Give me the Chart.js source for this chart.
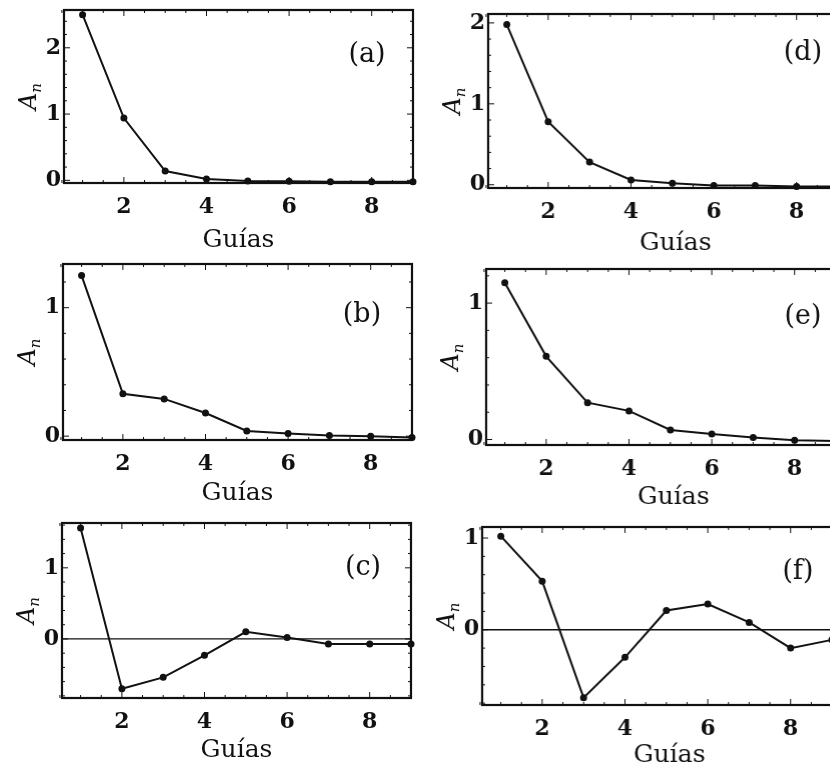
<!DOCTYPE html>
<html>
<head>
<meta charset="utf-8">
<script src="https://cdn.jsdelivr.net/npm/chart.js@4.4.1/dist/chart.umd.min.js"></script>
<style>
  html, body { margin: 0; padding: 0; background: #fff; }
  body { width: 830px; height: 769px; overflow: hidden; position: relative; }
  .panel { position: absolute; }
</style>
</head>
<body>
<div class="panel" id="pa"><canvas></canvas></div>
<div class="panel" id="pb"><canvas></canvas></div>
<div class="panel" id="pc"><canvas></canvas></div>
<div class="panel" id="pd"><canvas></canvas></div>
<div class="panel" id="pe"><canvas></canvas></div>
<div class="panel" id="pf"><canvas></canvas></div>
<script>
// número de guía
var guias = [1, 2, 3, 4, 5, 6, 7, 8, 9];

// amplitudes A_n de cada caso
var ampA = [2.50, 0.94, 0.14, 0.02, -0.01, -0.015, -0.02, -0.02, -0.02];
var ampB = [1.25, 0.33, 0.29, 0.18, 0.04, 0.02, 0.005, 0.0, -0.01];
var ampC = [1.56, -0.70, -0.54, -0.23, 0.10, 0.02, -0.07, -0.07, -0.07];
var ampD = [1.98, 0.78, 0.28, 0.06, 0.02, -0.01, -0.01, -0.02, -0.02];
var ampE = [1.15, 0.61, 0.27, 0.21, 0.07, 0.04, 0.015, -0.005, -0.01];
var ampF = [1.02, 0.53, -0.74, -0.30, 0.21, 0.28, 0.08, -0.20, -0.11];

var xTicks = [2, 4, 6, 8];
var yTicks012 = [0, 1, 2];
var yTicks01 = [0, 1];

var FONT = '"DejaVu Serif", "Liberation Serif", serif';
var PAD_L = 70, PAD_R = 10, PAD_T = 22, PAD_B = 80;
var PX_X = 41.3;   // píxeles por guía
var X_MIN = 0.55;

// marco, marcas interiores, línea de cero y rótulos
var marco = {
  id: 'marco',
  beforeDatasetsDraw: function (chart, args, o) {
    if (!o.cero) return;
    var a = chart.chartArea, ctx = chart.ctx;
    var y0 = chart.scales.y.getPixelForValue(0);
    ctx.save();
    ctx.strokeStyle = '#111';
    ctx.lineWidth = 1.3;
    ctx.beginPath();
    ctx.moveTo(a.left, y0);
    ctx.lineTo(a.right, y0);
    ctx.stroke();
    ctx.restore();
  },
  afterDatasetsDraw: function (chart, args, o) {
    var a = chart.chartArea, ctx = chart.ctx;
    var sx = chart.scales.x, sy = chart.scales.y;
    ctx.save();
    ctx.strokeStyle = '#111';
    ctx.lineWidth = 2.2;
    ctx.strokeRect(a.left, a.top, a.right - a.left, a.bottom - a.top);

    ctx.lineWidth = 1;
    var v, px, py, big;
    for (v = 0.5; v <= sx.max; v += 0.5) {
      px = sx.getPixelForValue(v);
      big = v % 2 === 0;
      ctx.beginPath();
      ctx.moveTo(px, a.bottom); ctx.lineTo(px, a.bottom - (big ? 6 : 3));
      ctx.moveTo(px, a.top); ctx.lineTo(px, a.top + (big ? 6 : 3));
      ctx.stroke();
    }
    for (v = Math.ceil(sy.min * 5) / 5; v <= sy.max; v += 0.2) {
      py = sy.getPixelForValue(v);
      big = Math.abs(v - Math.round(v)) < 1e-6;
      ctx.beginPath();
      ctx.moveTo(a.left, py); ctx.lineTo(a.left + (big ? 6 : 3), py);
      ctx.moveTo(a.right, py); ctx.lineTo(a.right - (big ? 6 : 3), py);
      ctx.stroke();
    }

    // rótulo del panel
    ctx.fillStyle = '#111';
    ctx.font = '27px ' + FONT;
    ctx.textAlign = 'center';
    ctx.textBaseline = 'middle';
    ctx.fillText(o.rotulo, a.left + o.rx, a.top + o.ry);

    // A_n girado
    ctx.translate(a.left - 36, (a.top + a.bottom) / 2);
    ctx.rotate(-Math.PI / 2);
    ctx.textAlign = 'left';
    ctx.textBaseline = 'alphabetic';
    ctx.font = 'italic 24px ' + FONT;
    var wA = ctx.measureText('A').width;
    ctx.font = 'italic 15px ' + FONT;
    var wn = ctx.measureText('n').width;
    ctx.font = 'italic 24px ' + FONT;
    ctx.fillText('A', -(wA + wn) / 2, 8);
    ctx.font = 'italic 15px ' + FONT;
    ctx.fillText('n', -(wA + wn) / 2 + wA, 13);
    ctx.restore();
  }
};

var paneles = [
  { id: 'pa', rotulo: '(a)', valores: ampA, yt: yTicks012, min: -0.04, max: 2.57, cero: false,
    left: 64, top: 10, h: 173, xmax: 9, rx: 303, ry: 45, tb: 8 },
  { id: 'pb', rotulo: '(b)', valores: ampB, yt: yTicks01, min: -0.03, max: 1.34, cero: false,
    left: 63, top: 264, h: 176, xmax: 9, rx: 299, ry: 51, tb: 12 },
  { id: 'pc', rotulo: '(c)', valores: ampC, yt: yTicks01, min: -0.83, max: 1.63, cero: true,
    left: 62, top: 523, h: 175, xmax: 9, rx: 301, ry: 45, tb: 13 },
  { id: 'pd', rotulo: '(d)', valores: ampD, yt: yTicks012, min: -0.04, max: 2.11, cero: false,
    left: 488, top: 14, h: 174, xmax: 9.6, rx: 314, ry: 39, tb: 10 },
  { id: 'pe', rotulo: '(e)', valores: ampE, yt: yTicks01, min: -0.04, max: 1.25, cero: false,
    left: 486, top: 269, h: 176, xmax: 9.6, rx: 316, ry: 48, tb: 13 },
  { id: 'pf', rotulo: '(f)', valores: ampF, yt: yTicks01, min: -0.82, max: 1.12, cero: true,
    left: 482, top: 527, h: 178, xmax: 9.6, rx: 315, ry: 45, tb: 15 }
];

paneles.forEach(function (p) {
  var ancho = (p.xmax - X_MIN) * PX_X;
  var div = document.getElementById(p.id);
  div.style.left = (p.left - PAD_L) + 'px';
  div.style.top = (p.top - PAD_T) + 'px';
  div.style.width = (ancho + PAD_L + PAD_R) + 'px';
  div.style.height = (p.h + PAD_T + PAD_B) + 'px';

  var puntos = guias.map(function (g, i) { return { x: g, y: p.valores[i] }; });

  new Chart(div.querySelector('canvas'), {
    type: 'line',
    data: {
      datasets: [{
        data: puntos,
        borderColor: '#111',
        borderWidth: 2,
        pointRadius: 3.5,
        pointBackgroundColor: '#111',
        pointBorderWidth: 0,
        tension: 0,
        clip: false
      }]
    },
    options: {
      responsive: true,
      maintainAspectRatio: false,
      animation: false,
      events: [],
      layout: { padding: { top: PAD_T, right: PAD_R, left: 0, bottom: 0 } },
      plugins: {
        legend: { display: false },
        tooltip: { enabled: false },
        marco: { rotulo: p.rotulo, rx: p.rx, ry: p.ry, cero: p.cero }
      },
      scales: {
        x: {
          type: 'linear',
          min: X_MIN,
          max: p.xmax,
          afterBuildTicks: function (s) { s.ticks = xTicks.map(function (v) { return { value: v }; }); },
          afterFit: function (s) { s.height = PAD_B; },
          grid: { display: false, drawTicks: false },
          border: { display: false },
          ticks: { color: '#111', font: { family: FONT, size: 22, weight: 'bold' }, padding: 11 },
          title: {
            display: true,
            text: 'Guías',
            color: '#111',
            font: { family: FONT, size: 25 },
            padding: { top: 0, bottom: p.tb }
          }
        },
        y: {
          min: p.min,
          max: p.max,
          afterBuildTicks: function (s) { s.ticks = p.yt.map(function (v) { return { value: v }; }); },
          afterFit: function (s) { s.width = PAD_L; },
          grid: { display: false, drawTicks: false },
          border: { display: false },
          ticks: { color: '#111', font: { family: FONT, size: 22, weight: 'bold' }, padding: 3 }
        }
      }
    },
    plugins: [marco]
  });
});
</script>
</body>
</html>
